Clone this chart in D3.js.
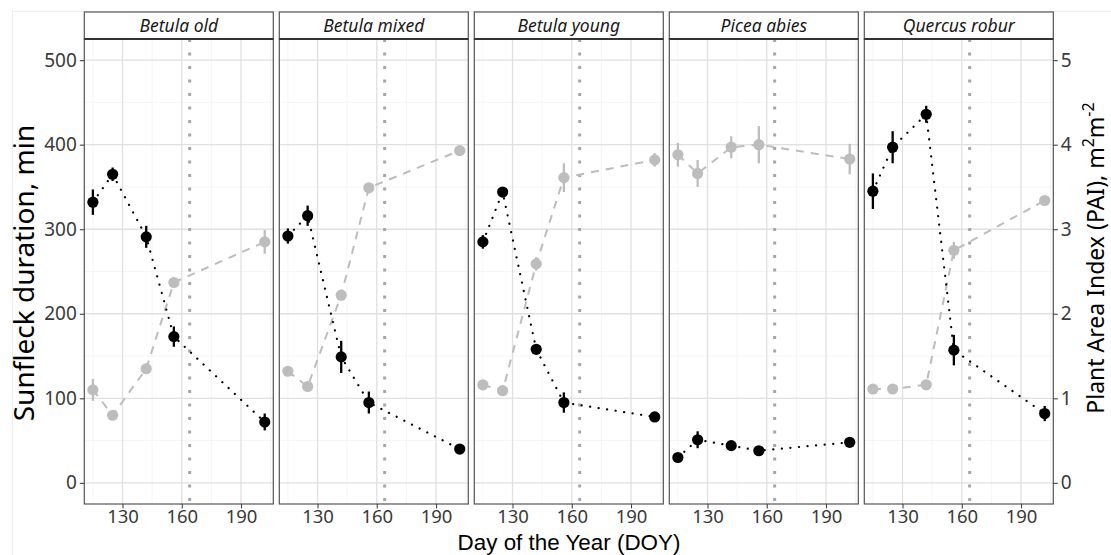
<!DOCTYPE html>
<html><head><meta charset="utf-8">
<script src="https://cdn.jsdelivr.net/npm/d3@7"></script>
<style>html,body{margin:0;padding:0;background:#fff;}svg{display:block;}</style>
</head><body>
<svg id="chart" width="1111" height="555"></svg>
<script>
// ---- data ----
const panels = ["Betula old", "Betula mixed", "Betula young", "Picea abies", "Quercus robur"];
const doy = [115, 125, 142, 156, 202];
const sunfleck = [
  [332, 365, 291, 173, 72],
  [292, 316, 149, 95, 40],
  [285, 344, 158, 95, 78],
  [30, 51, 44, 38, 48],
  [345, 397, 436, 157, 82]
];
const sunfleckErr = [
  [15, 8, 13, 12, 10],
  [9, 12, 19, 13, 3],
  [8, 5, 5, 12, 4],
  [4, 10, 4, 5, 4],
  [21, 19, 10, 18, 9]
];
const pai = [
  [1.10, 0.80, 1.35, 2.37, 2.85],
  [1.32, 1.14, 2.22, 3.49, 3.93],
  [1.16, 1.09, 2.59, 3.61, 3.82],
  [3.88, 3.66, 3.97, 4.00, 3.83],
  [1.11, 1.11, 1.16, 2.75, 3.34]
];
const paiErr = [
  [0.13, 0.05, 0.06, 0.04, 0.14],
  [0.04, 0.04, 0.05, 0.04, 0.03],
  [0.04, 0.04, 0.08, 0.17, 0.08],
  [0.14, 0.16, 0.13, 0.22, 0.18],
  [0.04, 0.04, 0.04, 0.10, 0.04]
];
const vlineDoy = 164;
const xTicks = [130, 160, 190];
const xMinor = [115, 145, 175, 205];
const yTicks = [0, 100, 200, 300, 400, 500];
const yMinor = [50, 150, 250, 350, 450];
const paiTicks = [0, 1, 2, 3, 4, 5];

// ---- layout ----
const svg = d3.select("#chart");
const FONT = "'Noto Sans', 'DejaVu Sans', sans-serif";
const FONT2 = "'Liberation Sans', Arial, sans-serif";
const panelLeft0 = 84.3, panelStep = 195, panelW = 189;
const stripTop = 12, panelTop = 39, panelBottom = 504;
const panelH = panelBottom - panelTop;

const x = d3.scaleLinear().domain([110.65, 206.35]).range([0, panelW]);
const y = d3.scaleLinear().domain([-25, 525]).range([panelH, 0]);
const yPai = d3.scaleLinear().domain([-0.25, 5.25]).range([panelH, 0]);

// faint plot background border
svg.append("rect").attr("x", 12.5).attr("y", 11.5).attr("width", 1111).attr("height", 560)
  .attr("fill", "none").attr("stroke", "#ededed").attr("stroke-width", 1);

panels.forEach((name, i) => {
  const gx = panelLeft0 + i * panelStep;
  const g = svg.append("g").attr("transform", `translate(${gx},${panelTop})`);

  // minor grid
  g.selectAll(".ymin").data(yMinor).enter().append("line")
    .attr("x1", 0).attr("x2", panelW).attr("y1", d => y(d)).attr("y2", d => y(d))
    .attr("stroke", "#f2f2f2").attr("stroke-width", 0.8);
  g.selectAll(".xmin").data(xMinor.filter(d => x(d) <= panelW)).enter().append("line")
    .attr("y1", 0).attr("y2", panelH).attr("x1", d => x(d)).attr("x2", d => x(d))
    .attr("stroke", "#f2f2f2").attr("stroke-width", 0.8);
  // major grid
  g.selectAll(".ymaj").data(yTicks).enter().append("line")
    .attr("x1", 0).attr("x2", panelW).attr("y1", d => y(d)).attr("y2", d => y(d))
    .attr("stroke", "#e0e0e0").attr("stroke-width", 1.3);
  g.selectAll(".xmaj").data(xTicks).enter().append("line")
    .attr("y1", 0).attr("y2", panelH).attr("x1", d => x(d)).attr("x2", d => x(d))
    .attr("stroke", "#e0e0e0").attr("stroke-width", 1.3);

  // vertical reference line
  g.append("line").attr("x1", x(vlineDoy)).attr("x2", x(vlineDoy))
    .attr("y1", 0).attr("y2", panelH)
    .attr("stroke", "#a6a6a6").attr("stroke-width", 3).attr("stroke-dasharray", "3,10.5");

  // PAI series (grey)
  const paiData = doy.map((d, j) => ({d, v: pai[i][j], e: paiErr[i][j]}));
  g.append("path").datum(paiData)
    .attr("d", d3.line().x(p => x(p.d)).y(p => yPai(p.v)))
    .attr("fill", "none").attr("stroke", "#bdbdbd").attr("stroke-width", 2)
    .attr("stroke-dasharray", "8,7");
  g.selectAll(".pe").data(paiData).enter().append("line")
    .attr("x1", p => x(p.d)).attr("x2", p => x(p.d))
    .attr("y1", p => yPai(p.v - p.e)).attr("y2", p => yPai(p.v + p.e))
    .attr("stroke", "#bdbdbd").attr("stroke-width", 2.3);
  g.selectAll(".pp").data(paiData).enter().append("circle")
    .attr("cx", p => x(p.d)).attr("cy", p => yPai(p.v)).attr("r", 5.6)
    .attr("fill", "#bdbdbd");

  // sunfleck series (black)
  const sfData = doy.map((d, j) => ({d, v: sunfleck[i][j], e: sunfleckErr[i][j]}));
  g.append("path").datum(sfData)
    .attr("d", d3.line().x(p => x(p.d)).y(p => y(p.v)))
    .attr("fill", "none").attr("stroke", "#000").attr("stroke-width", 2.2)
    .attr("stroke-linecap", "round").attr("stroke-dasharray", "0.1,8.5");
  g.selectAll(".se").data(sfData).enter().append("line")
    .attr("x1", p => x(p.d)).attr("x2", p => x(p.d))
    .attr("y1", p => y(p.v - p.e)).attr("y2", p => y(p.v + p.e))
    .attr("stroke", "#000").attr("stroke-width", 2.3);
  g.selectAll(".sp").data(sfData).enter().append("circle")
    .attr("cx", p => x(p.d)).attr("cy", p => y(p.v)).attr("r", 5.6)
    .attr("fill", "#000");

  // panel border
  g.append("rect").attr("x", 0).attr("y", 0).attr("width", panelW).attr("height", panelH)
    .attr("fill", "none").attr("stroke", "#555").attr("stroke-width", 1.2);

  // strip
  svg.append("rect").attr("x", gx).attr("y", stripTop).attr("width", panelW)
    .attr("height", panelTop - stripTop).attr("fill", "#fff")
    .attr("stroke", "#555").attr("stroke-width", 1.2);
  svg.append("line").attr("x1", gx).attr("x2", gx + panelW).attr("y1", panelTop).attr("y2", panelTop)
    .attr("stroke", "#333").attr("stroke-width", 1.8);
  svg.append("text").attr("x", gx + panelW / 2).attr("y", (stripTop + panelTop) / 2 + 6)
    .attr("text-anchor", "middle").attr("font-family", FONT).attr("font-style", "italic")
    .attr("font-size", 17.5).attr("fill", "#1a1a1a").text(name);

  // x axis
  const xa = svg.append("g").attr("transform", `translate(${gx},${panelBottom})`)
    .call(d3.axisBottom(x).tickValues(xTicks).tickSize(4.5).tickPadding(1.5));
  xa.select(".domain").remove();
  xa.selectAll(".tick line").attr("stroke", "#444").attr("stroke-width", 1.1);
  xa.selectAll(".tick text").attr("font-family", FONT).attr("font-size", 18.5).attr("fill", "#3a3a3a");

  if (i === 0) {
    const ya = svg.append("g").attr("transform", `translate(${gx},${panelTop})`)
      .call(d3.axisLeft(y).tickValues(yTicks).tickSize(4.5).tickPadding(3));
    ya.select(".domain").remove();
    ya.selectAll(".tick line").attr("stroke", "#444").attr("stroke-width", 1.1);
    ya.selectAll(".tick text").attr("font-family", FONT).attr("font-size", 19).attr("fill", "#3a3a3a");
  }
  if (i === panels.length - 1) {
    const ra = svg.append("g").attr("transform", `translate(${gx + panelW},${panelTop})`)
      .call(d3.axisRight(yPai).tickValues(paiTicks).tickFormat(d3.format("d")).tickSize(4.5).tickPadding(3));
    ra.select(".domain").remove();
    ra.selectAll(".tick line").attr("stroke", "#444").attr("stroke-width", 1.1);
    ra.selectAll(".tick text").attr("font-family", FONT).attr("font-size", 19).attr("fill", "#3a3a3a");
  }
});

// axis titles
svg.append("text").attr("transform", "translate(34,273) rotate(-90)")
  .attr("text-anchor", "middle").attr("font-family", FONT).attr("font-size", 28)
  .attr("fill", "#000").text("Sunfleck duration, min");

const rt = svg.append("text").attr("transform", "translate(1104,258) rotate(-90)")
  .attr("text-anchor", "middle").attr("font-family", FONT).attr("font-size", 23).attr("fill", "#000");
rt.append("tspan").text("Plant Area Index (PAI), m");
rt.append("tspan").attr("dy", -10).attr("font-size", 16).text("2");
rt.append("tspan").attr("dy", 10).text("m");
rt.append("tspan").attr("dy", -10).attr("font-size", 16).text("-2");

svg.append("text").attr("x", 569).attr("y", 549.5).attr("text-anchor", "middle")
  .attr("font-family", FONT2).attr("font-size", 22.4).attr("fill", "#000").text("Day of the Year (DOY)");
</script>
</body></html>
